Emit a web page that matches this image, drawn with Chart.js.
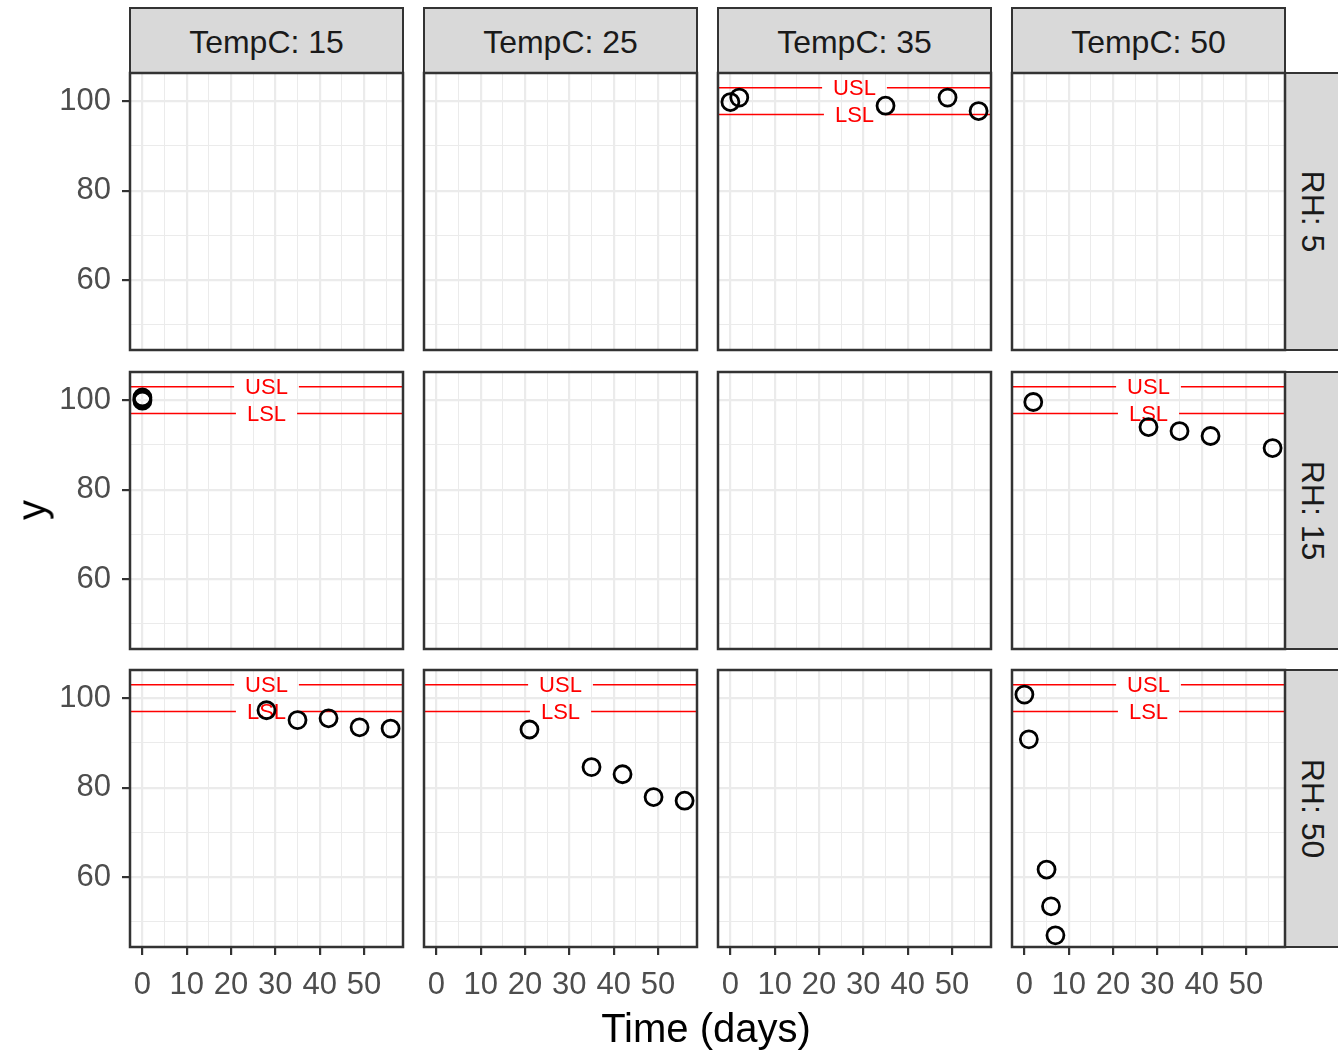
<!DOCTYPE html>
<html>
<head>
<meta charset="utf-8">
<script src="https://cdn.jsdelivr.net/npm/chart.js@4/dist/chart.umd.min.js"></script>
<style>
  body { margin: 0; background: #fff; width: 1338px; height: 1051px; overflow: hidden; position: relative;
         font-family: "Liberation Sans", Arial, sans-serif; }
  canvas { position: absolute; }
  .strip { position: absolute; box-sizing: border-box; background: #D9D9D9; border: 2px solid #333;
           display: flex; align-items: center; justify-content: center; color: #1A1A1A; font-size: 32px; }
  .strip.top { padding-top: 4px; }
  .strip.side span { display: inline-block; transform: rotate(90deg); white-space: nowrap; }
  .title { position: absolute; font-size: 40px; color: #000; white-space: nowrap; }
</style>
</head>
<body>
<script>
// facets
const tempC = [15, 25, 35, 50];
const rhLevels = [5, 15, 50];

// spec limits
const usl = 103;
const lsl = 97;
const specLabelDay = 28;

// axis limits and ticks
const xLimits = [-2.8, 58.8];
const yLimits = [44.4, 106.3];
const xGrid = [0, 5, 10, 15, 20, 25, 30, 35, 40, 45, 50, 55];
const xTickLabels = [0, 10, 20, 30, 40, 50];
const yGrid = [50, 60, 70, 80, 90, 100];
const yTickLabels = [60, 80, 100];

// observed values, one pair of arrays per panel
const days_T35_RH5 = [0, 2, 35, 49, 56];
const y_T35_RH5 = [99.8, 100.8, 99.0, 100.8, 97.8];
const days_T15_RH15 = [0, 0, 0];
const y_T15_RH15 = [100.6, 100.2, 99.9];
const days_T50_RH15 = [2, 28, 35, 42, 56];
const y_T50_RH15 = [99.6, 94.0, 93.1, 92.0, 89.3];
const days_T15_RH50 = [28, 35, 42, 49, 56];
const y_T15_RH50 = [97.3, 95.1, 95.5, 93.5, 93.2];
const days_T25_RH50 = [21, 35, 42, 49, 56];
const y_T25_RH50 = [93.0, 84.6, 83.0, 77.9, 77.1];
const days_T50_RH50 = [0, 1, 5, 6, 7];
const y_T50_RH50 = [100.8, 90.8, 61.7, 53.5, 47.0];

const panelData = {
  "35-5": [days_T35_RH5, y_T35_RH5],
  "15-15": [days_T15_RH15, y_T15_RH15],
  "50-15": [days_T50_RH15, y_T50_RH15],
  "15-50": [days_T15_RH50, y_T15_RH50],
  "25-50": [days_T25_RH50, y_T25_RH50],
  "50-50": [days_T50_RH50, y_T50_RH50],
};

const colLeft = [130, 424, 718, 1012];
const rowTop = [73, 372, 670];
const panelW = 273;
const panelH = 277;
const yAxisW = 130;
const xAxisH = 90;
const margin = 4;

const panelFrame = {
  id: "panelFrame",
  beforeDatasetsDraw(chart, args, opts) {
    if (!opts.spec) return;
    const { ctx, chartArea: a, scales } = chart;
    const xc = scales.x.getPixelForValue(specLabelDay);
    ctx.save();
    ctx.font = '22px "Liberation Sans", Arial, sans-serif';
    ctx.textAlign = "center";
    ctx.textBaseline = "middle";
    ctx.strokeStyle = "#FF0000";
    ctx.fillStyle = "#FF0000";
    ctx.lineWidth = 1.5;
    [[usl, "USL"], [lsl, "LSL"]].forEach(([v, t]) => {
      const py = scales.y.getPixelForValue(v);
      const half = ctx.measureText(t).width / 2 + 11;
      ctx.beginPath();
      ctx.moveTo(a.left, py);
      ctx.lineTo(xc - half, py);
      ctx.moveTo(xc + half, py);
      ctx.lineTo(a.right, py);
      ctx.stroke();
      ctx.fillText(t, xc, py + 1);
    });
    ctx.restore();
  },
  afterDraw(chart) {
    const { ctx, chartArea: a } = chart;
    ctx.save();
    ctx.strokeStyle = "#333333";
    ctx.lineWidth = 2.5;
    ctx.strokeRect(a.left, a.top, a.right - a.left, a.bottom - a.top);
    ctx.restore();
  },
};

const tickFont = { family: '"Liberation Sans", Arial, sans-serif', size: 31 };

function noPadding(s) {
  s.paddingTop = 0;
  s.paddingBottom = 0;
  s.paddingLeft = 0;
  s.paddingRight = 0;
}

function makePanel(c, r) {
  const key = tempC[c] + "-" + rhLevels[r];
  const data = panelData[key];
  const showY = c === 0;
  const showX = r === rhLevels.length - 1;

  const padL = showY ? 0 : margin;
  const padB = showX ? 0 : margin;
  const canvas = document.createElement("canvas");
  const left = colLeft[c] - (showY ? yAxisW : margin);
  const top = rowTop[r] - margin;
  const w = panelW + margin + (showY ? yAxisW : margin);
  const h = panelH + margin + (showX ? xAxisH : margin);
  canvas.width = w;
  canvas.height = h;
  canvas.style.left = left + "px";
  canvas.style.top = top + "px";
  canvas.style.width = w + "px";
  canvas.style.height = h + "px";
  document.body.appendChild(canvas);

  const datasets = data
    ? [{
        data: data[0].map((d, i) => ({ x: d, y: data[1][i] })),
        pointStyle: "circle",
        pointRadius: 8.5,
        pointBorderWidth: 2.8,
        pointBorderColor: "#000",
        pointBackgroundColor: "rgba(0,0,0,0)",
        showLine: false,
      }]
    : [];

  new Chart(canvas, {
    type: "scatter",
    data: { datasets },
    options: {
      responsive: false,
      animation: false,
      layout: { autoPadding: false, padding: { left: padL, right: margin, top: margin, bottom: padB } },
      scales: {
        x: {
          type: "linear",
          min: xLimits[0],
          max: xLimits[1],
          afterBuildTicks: (s) => { s.ticks = xGrid.map((v) => ({ value: v })); },
          afterFit: (s) => { s.height = showX ? xAxisH : 0; noPadding(s); },
          border: { display: false },
          grid: {
            color: "#EBEBEB",
            lineWidth: (ctx) => (ctx.tick && ctx.tick.value % 10 === 0 ? 2.2 : 1),
            drawTicks: showX,
            tickLength: 8,
            tickWidth: 2.2,
            tickColor: (ctx) => (ctx.tick && xTickLabels.includes(ctx.tick.value) ? "#333333" : "rgba(0,0,0,0)"),
          },
          ticks: {
            display: showX,
            autoSkip: false,
            maxRotation: 0,
            minRotation: 0,
            padding: 12,
            color: "#4D4D4D",
            font: tickFont,
            callback: (v) => (xTickLabels.includes(v) ? String(v) : ""),
          },
        },
        y: {
          type: "linear",
          min: yLimits[0],
          max: yLimits[1],
          afterBuildTicks: (s) => { s.ticks = yGrid.map((v) => ({ value: v })); },
          afterFit: (s) => { s.width = showY ? yAxisW : 0; noPadding(s); },
          border: { display: false },
          grid: {
            color: "#EBEBEB",
            lineWidth: (ctx) => (ctx.tick && yTickLabels.includes(ctx.tick.value) ? 2.2 : 1),
            drawTicks: showY,
            tickLength: 8,
            tickWidth: 2.2,
            tickColor: (ctx) => (ctx.tick && yTickLabels.includes(ctx.tick.value) ? "#333333" : "rgba(0,0,0,0)"),
          },
          ticks: {
            display: showY,
            autoSkip: false,
            padding: 11,
            color: "#4D4D4D",
            font: tickFont,
            callback: (v) => (yTickLabels.includes(v) ? String(v) : ""),
          },
        },
      },
      plugins: {
        legend: { display: false },
        tooltip: { enabled: false },
        panelFrame: { spec: !!data },
      },
    },
    plugins: [panelFrame],
  });
}

tempC.forEach((t, c) => {
  const s = document.createElement("div");
  s.className = "strip top";
  s.style.left = colLeft[c] - 1 + "px";
  s.style.top = "7px";
  s.style.width = panelW + 2 + "px";
  s.style.height = "67px";
  s.textContent = "TempC: " + t;
  document.body.appendChild(s);
});

rhLevels.forEach((v, r) => {
  const s = document.createElement("div");
  s.className = "strip side";
  s.style.left = colLeft[3] + panelW - 1 + "px";
  s.style.top = rowTop[r] - 1 + "px";
  s.style.width = "58px";
  s.style.height = panelH + 2 + "px";
  s.innerHTML = "<span>RH: " + v + "</span>";
  document.body.appendChild(s);
});

rhLevels.forEach((v, r) => tempC.forEach((t, c) => makePanel(c, r)));

const xt = document.createElement("div");
xt.className = "title";
xt.textContent = "Time (days)";
xt.style.left = "706px";
xt.style.top = "1028px";
xt.style.transform = "translate(-50%, -50%)";
document.body.appendChild(xt);

const yt = document.createElement("div");
yt.className = "title";
yt.textContent = "y";
yt.style.left = "32px";
yt.style.top = "510px";
yt.style.transform = "translate(-50%, -50%) rotate(-90deg)";
document.body.appendChild(yt);
</script>
</body>
</html>
